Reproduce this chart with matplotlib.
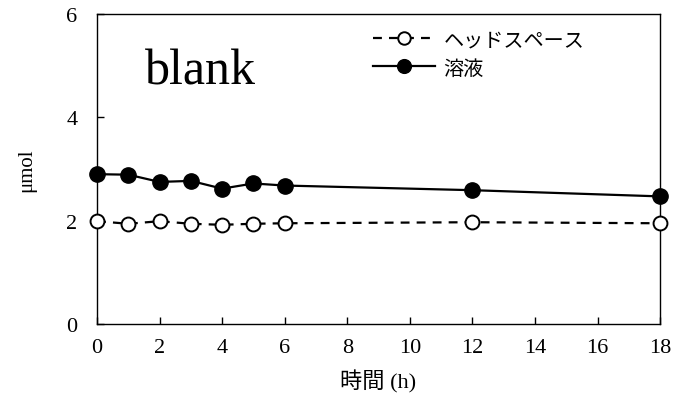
import matplotlib
matplotlib.use("Agg")
from matplotlib import pyplot as plt

plt.rcParams['font.family'] = ['Liberation Serif', 'Noto Sans CJK JP']

hours = [0, 1, 2, 3, 4, 5, 6, 12, 18]
headspace = [1.99, 1.94, 1.99, 1.94, 1.92, 1.94, 1.95, 1.97, 1.95]
solution = [2.90, 2.89, 2.75, 2.77, 2.62, 2.72, 2.68, 2.59, 2.47]
series_names = ['ヘッドスペース', '溶液']
x_ticks = list(range(0, 19, 2))
y_ticks = [0, 2, 4, 6]

fig = plt.figure(figsize=(6.77, 4.02), dpi=100)
ax = fig.add_axes([0.1433, 0.1915, 0.8317, 0.7712])

ax.plot(hours, headspace, color='black', lw=1.6, dashes=(4, 3.2),
        marker='o', ms=10, mfc='white', mec='black', mew=1.4,
        clip_on=False, zorder=3, label=series_names[0])
ax.plot(hours, solution, color='black', lw=1.6,
        marker='o', ms=11, mfc='black', mec='black',
        clip_on=False, zorder=3, label=series_names[1])

ax.set_xlim(0, 18)
ax.set_ylim(0, 6)
ax.set_xticks(x_ticks)
ax.set_yticks(y_ticks)
ax.tick_params(direction='in', length=5, width=1, labelsize=16, pad=10)
ax.tick_params(axis='y', pad=14)
for s in ax.spines.values():
    s.set_linewidth(1.0)

ax.set_ylabel('μmol', fontsize=15, labelpad=22)
ax.set_xlabel('時間 (h)', fontsize=16, labelpad=9)

ax.text(0.085, 0.775, 'blank', transform=ax.transAxes, fontsize=36)

leg = ax.legend(loc='upper left', bbox_to_anchor=(0.49, 0.95), frameon=False,
                prop={'family': ['Noto Sans CJK JP'], 'size': 14.5},
                handlelength=3.1, handletextpad=0.4, labelspacing=0.35,
                borderaxespad=0, borderpad=0, markerscale=0.9)

fig.savefig('out.png', dpi=100)
